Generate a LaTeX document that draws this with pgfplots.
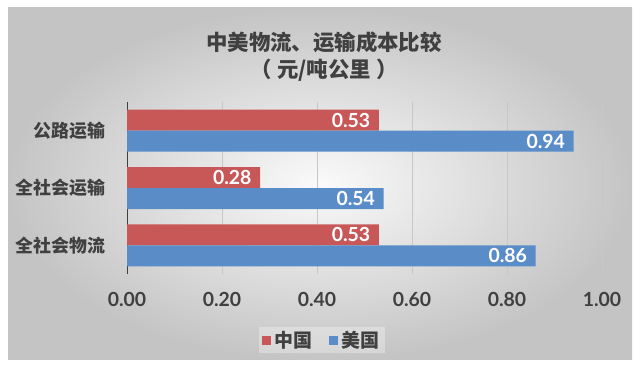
\documentclass[border=0pt]{standalone}
\usepackage{fontspec}
\usepackage{pgfplots}
\pgfplotsset{compat=1.18}
\setmainfont{Lato}
\newfontfamily\cjk{Noto Sans CJK SC}
\newfontfamily\num{Lato}
\definecolor{cnred}{RGB}{200,88,88}
\definecolor{usblue}{RGB}{90,140,200}
\definecolor{txt}{RGB}{64,64,64}
\begin{document}
\begin{tikzpicture}
\useasboundingbox (0,0) rectangle (640bp,374bp);
\fill[white] (0,0) rectangle (640bp,374bp);
\shade[inner color=black!2, outer color=black!23] (8bp,14bp) rectangle (632bp,366bp);
\node[font=\cjk\bfseries\fontsize{21.5}{25}\selectfont, text=txt] at (324bp,332bp) {中美物流、运输成本比较};
\node[font=\cjk\bfseries\fontsize{21.5}{25}\selectfont, text=txt] at (324bp,304bp) {（\hspace{0.25em}元/吨公里\hspace{0.25em}）};
\begin{axis}[at={(127bp,100bp)}, anchor=south west, scale only axis,
  width=475bp, height=172bp,
  xbar, bar width=21bp,
  xmin=0, xmax=1, ymin=-0.5, ymax=2.5,
  ytick={0,1,2}, yticklabels={全社会物流,全社会运输,公路运输},
  xtick={0,0.2,0.4,0.6,0.8,1},
  axis line style={draw=none}, major tick style={draw=none},
  xmajorgrids, grid style={black!22, line width=0.6pt},
  extra x ticks={0}, extra x tick labels={},
  extra x tick style={grid style={black!75, line width=0.9pt}},
  /pgf/number format/fixed, /pgf/number format/fixed zerofill,
  /pgf/number format/precision=2, /pgf/number format/assume math mode=true,
  xticklabel style={font=\num\bfseries\fontsize{19.5}{22}\selectfont, text=txt, inner sep=0pt, yshift=-18bp},
  yticklabel style={font=\cjk\bfseries\fontsize{18}{21}\selectfont, text=txt, inner sep=0pt, xshift=-17bp},
  nodes near coords,
  nodes near coords style={anchor=east, xshift=-5bp, font=\num\bfseries\fontsize{19.5}{22}\selectfont, text=white},
  legend style={at={(0.41,-0.384)}, anchor=center, legend columns=2, draw=none,
    fill=white, fill opacity=0.3, text opacity=1,
    font=\cjk\bfseries\fontsize{19}{22}\selectfont, text=txt,
    /tikz/every odd column/.append style={column sep=2bp},
    /tikz/every even column/.append style={column sep=14bp}},
  legend image code/.code={\fill[#1, fill opacity=1] (0bp,-4.5bp) rectangle (9bp,4.5bp);},
]
\addplot[fill=cnred, draw=none, bar shift=10.5bp] coordinates {(0.53,0) (0.28,1) (0.53,2)};
\addplot[fill=usblue, draw=none, bar shift=-10.5bp] coordinates {(0.86,0) (0.54,1) (0.94,2)};
\legend{中国,美国}
\end{axis}
\end{tikzpicture}
\end{document}
